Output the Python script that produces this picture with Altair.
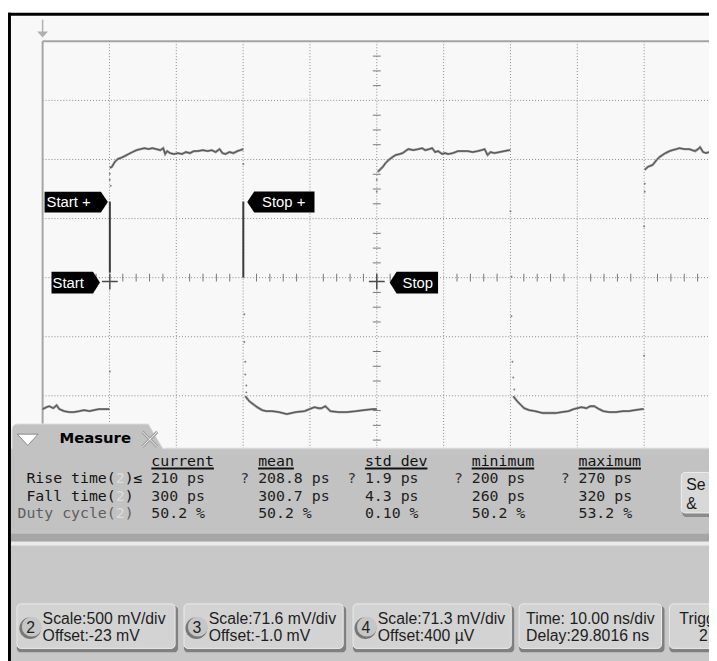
import altair as alt
import pandas as pd

# ---------------- data (time in ns from left graticule edge, voltage in V) ----------------
low0_t = [0.0, 0.6, 1.0, 1.6, 2.1, 2.5, 3.2, 4.0, 4.7, 5.5, 6.2, 7.0, 7.7, 8.4, 9.2, 10.0]
low0_v = [-1.136, -1.119, -1.111, -1.128, -1.103, -1.136, -1.153, -1.161, -1.161, -1.153,
          -1.144, -1.153, -1.144, -1.136, -1.136, -1.136]

high1_t = [10.06, 10.36, 10.80, 11.24, 11.69, 12.28, 12.87, 13.46, 14.05, 14.65, 15.24, 15.83,
           16.42, 17.01, 17.60, 18.05, 18.34, 18.64, 19.08, 19.67, 20.27, 20.86, 21.45, 22.04,
           22.63, 23.23, 23.97, 24.71, 25.30, 25.89, 26.48, 26.92, 27.37, 27.96, 28.55, 29.14,
           29.59, 30.03]
high1_v = [0.906, 0.914, 0.956, 0.981, 0.990, 1.006, 1.023, 1.040, 1.056, 1.065, 1.073, 1.065,
           1.073, 1.065, 1.056, 1.073, 1.023, 1.048, 1.031, 1.023, 1.031, 1.023, 1.040, 1.031,
           1.048, 1.048, 1.056, 1.048, 1.056, 1.040, 1.065, 1.031, 1.023, 1.040, 1.031, 1.048,
           1.056, 1.065]

low1_t = [30.33, 30.92, 31.51, 32.10, 32.84, 33.43, 34.32, 35.36, 36.54, 37.87, 39.20, 39.94,
          40.68, 41.27, 41.72, 42.31, 43.05, 44.24, 45.57, 46.90, 48.08, 49.41, 50.0]
low1_v = [-1.027, -1.069, -1.094, -1.119, -1.144, -1.153, -1.153, -1.161, -1.178, -1.161,
          -1.153, -1.136, -1.119, -1.128, -1.128, -1.111, -1.153, -1.161, -1.161, -1.153,
          -1.144, -1.136, -1.136]

high2_t = [50.15, 50.59, 50.89, 51.33, 51.78, 52.37, 52.81, 53.40, 53.85, 54.29, 54.73, 55.47,
           56.21, 56.80, 57.25, 57.84, 58.28, 58.73, 59.17, 59.76, 60.21, 60.65, 61.39, 62.13,
           62.87, 63.61, 64.35, 65.09, 65.68, 66.13, 66.57, 67.01, 67.60, 68.35, 69.08, 69.82,
           69.97]
high2_v = [0.872, 0.897, 0.914, 0.948, 0.973, 0.998, 1.015, 1.023, 1.031, 1.048, 1.065, 1.056,
           1.065, 1.073, 1.056, 1.065, 1.073, 1.040, 1.048, 1.023, 1.031, 1.023, 1.031, 1.048,
           1.048, 1.048, 1.040, 1.048, 1.056, 1.065, 1.015, 1.040, 1.031, 1.040, 1.048, 1.056,
           1.056]

low2_t = [70.42, 71.01, 71.60, 72.04, 72.78, 73.67, 74.26, 74.85, 75.74, 76.77, 77.66, 78.70,
          79.44, 80.03, 80.62, 81.36, 81.95, 82.54, 83.28, 83.87, 84.76, 85.80, 86.83, 87.72,
          88.61, 89.64, 89.94]
low2_v = [-1.027, -1.069, -1.103, -1.128, -1.144, -1.153, -1.161, -1.169, -1.169, -1.169,
          -1.161, -1.153, -1.136, -1.128, -1.119, -1.128, -1.111, -1.111, -1.136, -1.153,
          -1.161, -1.161, -1.153, -1.153, -1.144, -1.136, -1.136]

high3_t = [90.09, 90.53, 91.27, 91.86, 92.31, 92.75, 93.20, 93.79, 94.23, 94.82, 95.27, 96.01,
           96.75, 97.19, 97.63, 98.08, 98.37, 98.82, 99.26, 99.70]
high3_v = [0.889, 0.914, 0.931, 0.973, 0.998, 1.015, 1.031, 1.048, 1.056, 1.065, 1.073, 1.065,
           1.065, 1.056, 1.048, 1.065, 1.082, 1.040, 1.031, 1.040]

# sparse samples caught on the fast edges
edge_t = [10.06, 10.06, 10.2, 10.06, 30.03, 30.18, 30.18, 30.33, 30.33, 30.48, 30.48, 50.0,
          50.0, 70.0, 70.15, 70.15, 70.3, 70.42, 70.57, 90.0, 90.09, 90.09, 90.0]
edge_v = [0.856, 0.805, 0.755, -0.818, 0.939, -0.333, -0.567, -0.734, -0.843, -0.935, -0.994,
          0.805, 0.705, 0.538, -0.015, -0.349, -0.734, -0.868, -0.969, 0.412, 0.772, 0.705,
          -0.684]

# measurement cursors
cursor_t = [10.06, 30.03]
cursor_top = [0.621, 0.621]
cursor_bottom = [0.019, -0.023]
cross_t = [10.06, 50.0]
cross_v = [-0.056, -0.056]

# graticule (10 ns/div, 500 mV/div, offset -23 mV)
grid_t = [10, 20, 30, 40, 50, 60, 70, 80, 90]
grid_v = [-1.523, -1.023, -0.523, -0.023, 0.477, 0.977, 1.477]
screen_t = [0, 100]
screen_v = [1.977, -2.023]
center_t = 50
center_v = -0.023

# measurement table
headers = ["current", "mean", "std dev", "minimum", "maximum"]
row_names = ["Rise time", "Fall time", "Duty cycle"]
rise_vals = ["210 ps", "208.8 ps", "1.9 ps", "200 ps", "270 ps"]
fall_vals = ["300 ps", "300.7 ps", "4.3 ps", "260 ps", "320 ps"]
duty_vals = ["50.2 %", "50.2 %", "0.10 %", "50.2 %", "53.2 %"]
rise_flags = ["", "?", "?", "?", "?"]

buttons = [
    ("2", "Scale:500 mV/div", "Offset:-23 mV"),
    ("3", "Scale:71.6 mV/div", "Offset:-1.0 mV"),
    ("4", "Scale:71.3 mV/div", "Offset:400 \u00b5V"),
    ("", "Time: 10.00 ns/div", "Delay:29.8016 ns"),
    ("", "Trigger", "2"),
]

# ---------------- scales ----------------
XS = alt.Scale(domain=[-5.1775, 99.704], nice=False, zero=False)
YS = alt.Scale(domain=[-3.2364, 2.228], nice=False, zero=False)


def X(f):
    return alt.X(f, type="quantitative", scale=XS, axis=None)


def Y(f):
    return alt.Y(f, type="quantitative", scale=YS, axis=None)


one = pd.DataFrame({"k": [0]})
OFF = 8
MONO = "DejaVu Sans Mono"
SANS = "Liberation Sans"


def P(v):
    return v - OFF


def rect(x1, y1, x2, y2, fill, **kw):
    return alt.Chart(one).mark_rect(fill=fill, **kw).encode(
        x=alt.value(P(x1)), x2=alt.value(P(x2)), y=alt.value(P(y1)), y2=alt.value(P(y2)))


def txt(s, x, y, size=15, color="#111111", font=SANS, weight="normal", align="left",
        baseline="alphabetic"):
    return alt.Chart(one).mark_text(text=s, fontSize=size, color=color, font=font,
                                    fontWeight=weight, align=align, baseline=baseline).encode(
        x=alt.value(P(x)), y=alt.value(P(y)))


def sym(path, cx, cy, width, fill=None, stroke=None, sw=1.0):
    kw = dict(shape=path, size=width * width, opacity=1)
    if fill:
        kw.update(filled=True, fill=fill)
    else:
        kw.update(filled=False)
    if stroke:
        kw.update(stroke=stroke, strokeWidth=sw)
    else:
        kw.update(strokeWidth=0)
    return alt.Chart(one).mark_point(**kw).encode(x=alt.value(P(cx)), y=alt.value(P(cy)))


layers = []

# screen background + black frame
layers.append(rect(11, 13, 740, 670, "#f8f8f8"))
layers.append(rect(8, 9, 740, 12, "#000000"))
layers.append(rect(8, 9, 11, 670, "#000000"))

# dotted grid
vg = pd.DataFrame({"t": grid_t, "top": screen_v[0], "bot": screen_v[1]})
layers.append(alt.Chart(vg).mark_rule(stroke="#8c8c8c", strokeDash=[1, 2], strokeWidth=1).encode(
    x=X("t"), y=Y("top"), y2=alt.Y2("bot")))
hg = pd.DataFrame({"v": grid_v, "a": screen_t[0], "b": screen_t[1]})
layers.append(alt.Chart(hg).mark_rule(stroke="#8c8c8c", strokeDash=[1, 2], strokeWidth=1).encode(
    y=Y("v"), x=X("a"), x2=alt.X2("b")))

# solid screen border (top, left)
layers.append(alt.Chart(pd.DataFrame({"v": [screen_v[0]], "a": [screen_t[0]], "b": [screen_t[1]]}))
              .mark_rule(stroke="#a4a4a4", strokeWidth=2).encode(y=Y("v"), x=X("a"), x2=alt.X2("b")))
layers.append(alt.Chart(pd.DataFrame({"t": [screen_t[0]], "a": [screen_v[0]], "b": [screen_v[1]]}))
              .mark_rule(stroke="#a4a4a4", strokeWidth=2).encode(x=X("t"), y=Y("a"), y2=alt.Y2("b")))

# minor ticks on the centre axes
ht = pd.DataFrame({"t": [2 * k for k in range(1, 50) if k % 5 != 0], "v": center_v})
layers.append(alt.Chart(ht).mark_tick(orient="vertical", size=8, thickness=1, color="#777777",
                                      opacity=1).encode(x=X("t"), y=Y("v")))
vt = pd.DataFrame({"v": [center_v + 0.125 * k for k in range(-16, 17) if k % 4 != 0], "t": center_t})
layers.append(alt.Chart(vt).mark_tick(orient="horizontal", size=8, thickness=1, color="#777777",
                                      opacity=1).encode(x=X("t"), y=Y("v")))

# trigger reference arrow at top
layers.append(alt.Chart(one).mark_rule(stroke="#b0b0b0", strokeWidth=1.5).encode(
    x=alt.value(P(43)), y=alt.value(P(16)), y2=alt.value(P(30))))
layers.append(sym("M-1,-0.545L1,-0.545L0,0.545Z", 43, 31, 11, fill="#b0b0b0"))

# waveform
segs = [(low0_t, low0_v), (high1_t, high1_v), (low1_t, low1_v), (high2_t, high2_v),
        (low2_t, low2_v), (high3_t, high3_v)]
wave = pd.concat([pd.DataFrame({"t": t, "v": v, "seg": i}) for i, (t, v) in enumerate(segs)])
layers.append(alt.Chart(wave).mark_line(stroke="#8a8a8a", strokeWidth=2.4).encode(
    x=X("t"), y=Y("v"), detail="seg:N", order="t:Q"))
layers.append(alt.Chart(wave).mark_line(stroke="#505050", strokeWidth=1).encode(
    x=X("t"), y=Y("v"), detail="seg:N", order="t:Q"))
edges = pd.DataFrame({"t": edge_t, "v": edge_v})
layers.append(alt.Chart(edges).mark_point(filled=True, size=4, color="#808080", opacity=1).encode(
    x=X("t"), y=Y("v")))

# cursors
cur = pd.DataFrame({"t": cursor_t, "a": cursor_top, "b": cursor_bottom})
layers.append(alt.Chart(cur).mark_rule(stroke="#3a3a3a", strokeWidth=2).encode(
    x=X("t"), y=Y("a"), y2=alt.Y2("b")))
cross = pd.DataFrame({"t": cross_t, "v": cross_v})
layers.append(alt.Chart(cross).mark_point(shape="M-1,0L1,0M0,-1L0,1", size=256, filled=False,
                                          stroke="#4a4a4a", strokeWidth=1.5, opacity=1).encode(
    x=X("t"), y=Y("v")))

# cursor labels
layers.append(sym("M-1,-0.328L0.78,-0.328L1,0L0.78,0.328L-1,0.328Z", 77, 200.5, 64, fill="#000000"))
layers.append(txt("Start +", 47, 201, size=15, color="#ffffff", baseline="middle"))
layers.append(sym("M1,-0.309L-0.794,-0.309L-1,0L-0.794,0.309L1,0.309Z", 284, 200.5, 68, fill="#000000"))
layers.append(txt("Stop +", 265, 201, size=15, color="#ffffff", baseline="middle"))
layers.append(sym("M-1,-0.449L0.714,-0.449L1,0L0.714,0.449L-1,0.449Z", 76.5, 282, 49, fill="#000000"))
layers.append(txt("Start", 53, 282.5, size=15, color="#ffffff", baseline="middle"))
layers.append(sym("M1,-0.449L-0.714,-0.449L-1,0L-0.714,0.449L1,0.449Z", 418.5, 282, 49, fill="#000000"))
layers.append(txt("Stop", 407, 282.5, size=15, color="#ffffff", baseline="middle"))

# ---------------- Measure panel ----------------
PANEL = "#c2c2c2"
layers.append(sym("M-1,0.182L-1,-0.091Q-1,-0.169,-0.922,-0.169L0.792,-0.169L1,0.182Z",
                  89, 438, 154, fill=PANEL, stroke="#e2e2e2", sw=1))
layers.append(rect(11, 450, 740, 538, PANEL))
layers.append(rect(166, 449, 740, 450.5, "#d8d8d8"))
layers.append(rect(11, 536, 740, 544, "#a6a6a6"))
layers.append(rect(11, 544, 740, 548, "#ebebeb"))
layers.append(rect(11, 548, 740, 670, "#c8c8c8"))

layers.append(sym("M-1,-0.545L1,-0.545L0,0.545Z", 28, 441, 21, fill="#ffffff", stroke="#8a8a8a", sw=1))
layers.append(txt("Measure", 60, 444, size=15, weight="bold", font="DejaVu Sans", color="#000000"))
layers.append(sym("M-1,-1L1,1M-1,1L1,-1", 151.5, 440.5, 15, stroke="#a0a0a0", sw=3))
layers.append(sym("M-1,-1L1,1M-1,1L1,-1", 151.5, 440.5, 15, stroke="#f2f2f2", sw=1))

CH = 9.03
COL_X = [153, 261, 369, 477, 585]
HEAD_Y = 467
ROW_Y = [485, 503, 520]
LABEL_END = 135

for j, h in enumerate(headers):
    layers.append(txt(h, COL_X[j], HEAD_Y, font=MONO, color="#111111"))
    layers.append(rect(COL_X[j], 469, COL_X[j] + CH * len(h), 471, "#111111"))

for i, (name, vals) in enumerate(zip(row_names, [rise_vals, fall_vals, duty_vals])):
    start = LABEL_END - CH * (len(name) + 3)
    col = "#141414" if i < 2 else "#5e5e5e"
    layers.append(txt(name + "(", start, ROW_Y[i], font=MONO, color=col))
    layers.append(txt("2", start + CH * (len(name) + 1), ROW_Y[i], font=MONO, color="#dcdcdc"))
    layers.append(txt(")", start + CH * (len(name) + 2), ROW_Y[i], font=MONO, color=col))
    if i == 0:
        layers.append(txt("\u2264", LABEL_END, ROW_Y[i], font=MONO, color=col))
    for j, v in enumerate(vals):
        layers.append(txt(v, COL_X[j], ROW_Y[i], font=MONO, color="#1e1e1e"))
        if i == 0 and rise_flags[j]:
            layers.append(txt(rise_flags[j], COL_X[j] - 18, ROW_Y[i], font=MONO, color="#333333"))

# "Se &" button on right of panel
layers.append(rect(690, 476, 740, 519, "#8a8a8a", cornerRadius=4))
layers.append(rect(689, 474, 740, 515, "#d8d8d8", cornerRadius=4, stroke="#efefef", strokeWidth=1))
layers.append(txt("Se", 694, 492, size=16, color="#1a1a1a"))
layers.append(txt("&", 694, 511, size=16, color="#1a1a1a"))

# ---------------- bottom buttons ----------------
BTN_X = [(17, 180), (186, 350), (357, 520), (525, 672), (677, 780)]
TXT_X = [43, 211, 382, 532, 687]
BADGE_X = [32, 200, 371]
for k, (num, l1, l2) in enumerate(buttons):
    x1, x2 = BTN_X[k]
    layers.append(rect(x1, 609, x2, 656, "#808080", cornerRadius=4))
    layers.append(rect(x1, 607, x2 - 3, 652, "#d3d3d3", cornerRadius=4, stroke="#ececec", strokeWidth=1))
    if num:
        bx = BADGE_X[k]
        layers.append(sym("circle", bx - 1.5, 631.5, 22, fill="#777777"))
        layers.append(sym("circle", bx, 630, 20, fill="#c6c6c6"))
        layers.append(txt(num, bx - 1, 631, size=16, color="#222222", align="center", baseline="middle"))
    layers.append(txt(l1, TXT_X[k], 627, size=16, color="#1e1e1e"))
    layers.append(txt(l2, TXT_X[k] if k < 4 else 707, 645, size=16, color="#1e1e1e"))

chart = alt.layer(*layers).properties(
    width=709, height=653, padding=0, background="#ffffff",
    autosize=alt.AutoSizeParams(type="none"),
).configure_view(strokeWidth=0)

chart.save("out.html", embed_options={"renderer": "svg", "actions": False})
